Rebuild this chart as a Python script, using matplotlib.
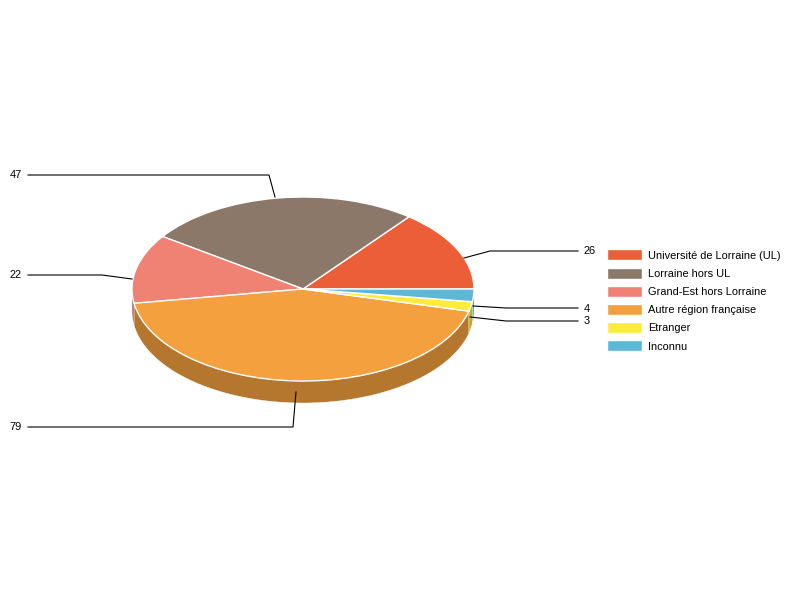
import numpy as np
import matplotlib
matplotlib.use("Agg")
import matplotlib.pyplot as plt
from matplotlib.colors import to_rgb
from matplotlib.patches import Polygon

categories = ["Université de Lorraine (UL)", "Lorraine hors UL", "Grand-Est hors Lorraine",
              "Autre région française", "Etranger", "Inconnu"]
values = [26, 47, 22, 79, 3, 4]
colors = ["#EB5E37", "#8B7869", "#EF8273", "#F5A03E", "#FFEB3C", "#5DB7D6"]

# leader lines, in pixels: start, elbow, end x
leaders = [((464, 258), (490, 251), 578), ((275, 197), (269, 175), 28),
           ((132, 279), (102, 275), 28), ((296, 392), (293, 427), 28),
           ((470, 317), (506, 321), 578), ((473, 306), (506, 308), 578)]

W, H = 800, 600
cx, cy, rx, ry, depth = 303, 289, 171, 92, 22

plt.rcParams["font.family"] = ["Liberation Sans", "DejaVu Sans"]
fig = plt.figure(figsize=(W / 100, H / 100), dpi=100)

# pie axes: one data unit is one radius, squashed to get the tilt
ax = fig.add_axes([0, 0, 1, 1])
wedges, _ = ax.pie(values, colors=colors, startangle=0, counterclock=True,
                   wedgeprops={"edgecolor": "white", "linewidth": 1.0, "zorder": 3})
ax.set_aspect("auto")
ax.set_xlim(-cx / rx, (W - cx) / rx)
ax.set_ylim((cy - H) / ry, cy / ry)
ax.axis("off")

# side of the pie, only the front part (180 to 360 deg) shows
d = depth / ry
edges = np.concatenate([[0], np.cumsum(values)]) / sum(values) * 360
for a0, a1, col in zip(edges[:-1], edges[1:], colors):
    lo, hi = max(a0, 180), min(a1, 360)
    if hi <= lo:
        continue
    t = np.radians(np.linspace(lo, hi, 80))
    top = np.column_stack([np.cos(t), np.sin(t)])
    bottom = (top - [0, d])[::-1]
    dark = tuple(c * 0.74 for c in to_rgb(col))
    ax.add_patch(Polygon(np.vstack([top, bottom]), closed=True, facecolor=dark,
                         edgecolor="white", linewidth=0.3, zorder=2))

# overlay in pixels for labels and legend
ov = fig.add_axes([0, 0, 1, 1], facecolor="none")
ov.set_xlim(0, W)
ov.set_ylim(H, 0)
ov.axis("off")

for val, (p0, p1, xe) in zip(values, leaders):
    ov.plot([p0[0], p1[0], xe], [p0[1], p1[1], p1[1]], color="black", lw=0.8, zorder=1)
    if xe > cx:
        ov.text(xe + 6, p1[1] + 0.5, str(val), fontsize=7.95, ha="left", va="center", color="black")
    else:
        ov.text(xe - 6, p1[1] + 0.5, str(val), fontsize=7.95, ha="right", va="center", color="black")

fs = 7.95
ov.legend(wedges, categories, loc="upper left", bbox_to_anchor=(606.5, 249.5),
          bbox_transform=ov.transData, frameon=False, fontsize=fs, borderpad=0,
          borderaxespad=0, handlelength=35.5 / 11, handleheight=1.15,
          handletextpad=6 / 11, labelspacing=0.63)

fig.savefig("out.png", dpi=100)
